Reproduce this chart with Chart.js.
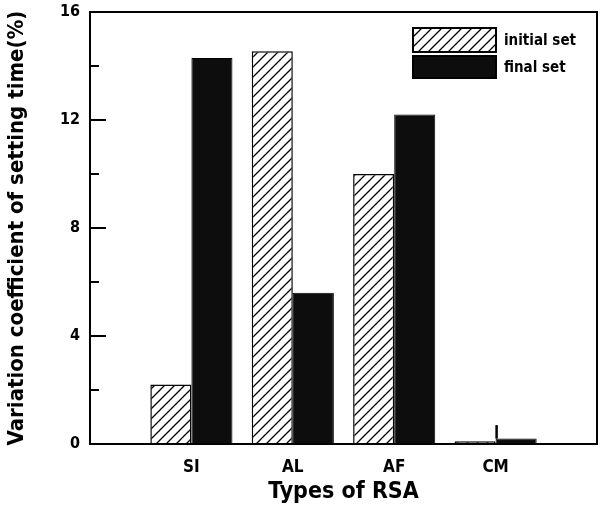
<!DOCTYPE html>
<html><head><meta charset="utf-8">
<script src="https://cdn.jsdelivr.net/npm/chart.js@4/dist/chart.umd.min.js"></script>
<style>html,body{margin:0;padding:0;background:#fff}#wrap{width:601px;height:510px}</style>
</head><body><div id="wrap"><canvas id="c" width="601" height="510"></canvas></div>
<script>
const categories = ['', 'SI', 'AL', 'AF', 'CM', ''];
const initialSet = [null, 2.2, 14.55, 10.0, 0.1, null];
const finalSet = [null, 14.3, 5.6, 12.2, 0.2, null];
const finalErrTop = [null, null, null, null, 0.7, null];
const yTicks = [0, 4, 8, 12, 16];
const yMinorTicks = [2, 6, 10, 14];

const FONT = '"DejaVu Sans Condensed", "Liberation Sans Narrow", "Liberation Sans", Arial, sans-serif';

function hatch() {
  const s = 10;
  const p = document.createElement('canvas');
  p.width = s; p.height = s;
  const g = p.getContext('2d');
  g.fillStyle = '#fff'; g.fillRect(0, 0, s, s);
  g.strokeStyle = '#000'; g.lineWidth = 1.3;
  g.beginPath();
  g.moveTo(0, s); g.lineTo(s, 0);
  g.moveTo(-s/2, s/2); g.lineTo(s/2, -s/2);
  g.moveTo(s/2, s*1.5); g.lineTo(s*1.5, s/2);
  g.stroke();
  return document.getElementById('c').getContext('2d').createPattern(p, 'repeat');
}
const hatchPat = hatch();

const framePlugin = {
  id: 'frame',
  afterDatasetsDraw(chart) {
    const {ctx, chartArea: a, scales: {y}} = chart;
    ctx.save();
    const meta = chart.getDatasetMeta(1);
    finalErrTop.forEach((v, i) => {
      if (v == null) return;
      const el = meta.data[i];
      const x = el.x - el.width / 2 + 1;
      ctx.strokeStyle = '#000'; ctx.lineWidth = 2.5;
      ctx.beginPath(); ctx.moveTo(x, y.getPixelForValue(finalSet[i])); ctx.lineTo(x, y.getPixelForValue(v)); ctx.stroke();
    });
    ctx.strokeStyle = '#000'; ctx.lineWidth = 2;
    ctx.strokeRect(a.left, a.top, a.right - a.left, a.bottom - a.top);
    yTicks.forEach(v => { const py = Math.round(y.getPixelForValue(v)); ctx.beginPath(); ctx.moveTo(a.left, py); ctx.lineTo(a.left + 16, py); ctx.stroke(); });
    yMinorTicks.forEach(v => { const py = Math.round(y.getPixelForValue(v)); ctx.beginPath(); ctx.moveTo(a.left, py); ctx.lineTo(a.left + 9, py); ctx.stroke(); });
    const items = [{ds: chart.data.datasets[0], y: 28, h: 24}, {ds: chart.data.datasets[1], y: 56, h: 22}];
    ctx.font = 'bold 15px ' + FONT;
    ctx.textBaseline = 'middle'; ctx.textAlign = 'left';
    items.forEach(it => {
      ctx.fillStyle = it.ds.backgroundColor;
      ctx.fillRect(413, it.y, 83, it.h);
      ctx.lineWidth = 2; ctx.strokeStyle = '#000';
      ctx.strokeRect(413, it.y, 83, it.h);
      ctx.fillStyle = '#000';
      ctx.fillText(it.ds.label, 504, it.y + it.h / 2 + 1);
    });
    ctx.restore();
  }
};

new Chart(document.getElementById('c'), {
  type: 'bar',
  data: {
    labels: categories,
    datasets: [
      {label: 'initial set', data: initialSet, backgroundColor: hatchPat, borderColor: '#000', borderWidth: 1.5, categoryPercentage: 0.81, barPercentage: 1},
      {label: 'final set', data: finalSet, backgroundColor: '#0d0d0d', borderColor: '#000', borderWidth: 1, categoryPercentage: 0.81, barPercentage: 1}
    ]
  },
  options: {
    responsive: false, animation: false,
    layout: {padding: {left: 0, right: 4, top: 12, bottom: 0}},
    plugins: {legend: {display: false}, tooltip: {enabled: false}},
    scales: {
      x: {
        offset: false,
        grid: {display: false, drawTicks: false},
        border: {display: false},
        ticks: {color: '#000', font: {family: FONT, size: 17, weight: 'bold'}, padding: 13, maxRotation: 0, autoSkip: false},
        title: {display: true, text: 'Types of RSA', color: '#000', font: {family: FONT, size: 23, weight: 'bold'}, padding: {top: 4}},
        afterFit(s) { s.height = 66; s.paddingLeft = 0; s.paddingRight = 0; }
      },
      y: {
        min: 0, max: 16,
        afterBuildTicks(s) { s.ticks = yTicks.map(v => ({value: v})); },
        grid: {display: false, drawTicks: false},
        border: {display: false},
        ticks: {color: '#000', font: {family: FONT, size: 16, weight: 'bold'}, padding: 10},
        title: {display: true, text: 'Variation coefficient of setting time(%)', color: '#000', font: {family: FONT, size: 22, weight: 'bold'}, padding: {bottom: 10}},
        afterFit(s) { s.width = 90; s.paddingTop = 0; s.paddingBottom = 0; }
      }
    }
  },
  plugins: [framePlugin]
});
</script></body></html>
